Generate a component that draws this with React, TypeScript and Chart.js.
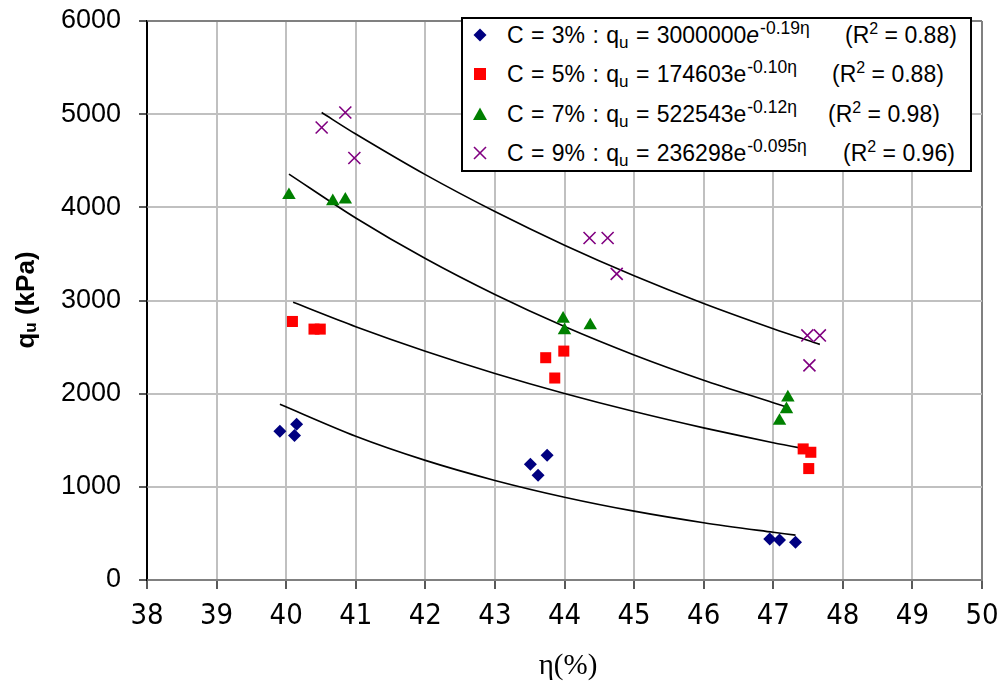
import React, { useEffect, useRef } from "react";
import { Chart, registerables } from "chart.js";

Chart.register(...registerables);

// ---- measured data (η %, qu kPa) ----
const etaC3 = [39.91, 40.15, 40.12, 43.51, 43.75, 43.62, 46.95, 47.09, 47.32];
const quC3 = [1596, 1671, 1550, 1243, 1339, 1125, 439, 429, 404];
const etaC5 = [40.09, 40.4, 40.49, 43.73, 43.99, 43.86, 47.43, 47.54, 47.51];
const quC5 = [2775, 2693, 2693, 2386, 2457, 2168, 1407, 1371, 1196];
const etaC7 = [40.04, 40.67, 40.85, 43.98, 44.0, 44.37, 47.21, 47.19, 47.09];
const quC7 = [4130, 4064, 4082, 2804, 2679, 2732, 1957, 1832, 1707];
const etaC9 = [40.51, 40.85, 40.98, 44.36, 44.62, 44.75, 47.49, 47.67, 47.52];
const quC9 = [4857, 5018, 4529, 3671, 3671, 3286, 2625, 2625, 2304];

// ---- trend lines ----
const trendEtaC3 = [39.91, 41, 42, 43, 44, 45, 46, 47, 47.32];
const trendQuC3 = [1886, 1543, 1284, 1069, 889, 739, 615, 512, 482];
const trendEtaC5 = [40.1, 41, 42, 43, 44, 45, 46, 47, 47.56];
const trendQuC5 = [2980, 2718, 2455, 2217, 2002, 1808, 1633, 1474, 1393];
const trendEtaC7 = [40.04, 41, 42, 43, 44, 45, 46, 47, 47.23];
const trendQuC7 = [4357, 3886, 3450, 3064, 2720, 2415, 2144, 1903, 1846];
const trendEtaC9 = [40.51, 41, 42, 43, 44, 45, 46, 47, 47.67];
const trendQuC9 = [5018, 4787, 4351, 3955, 3594, 3266, 2968, 2697, 2529];

// ---- legend text ----
const legendCement = ["C = 3%", "C = 5%", "C = 7%", "C = 9%"];
const legendCoef = ["3000000", "174603", "522543", "236298"];
const legendExp = ["-0.19\u03b7", "-0.10\u03b7", "-0.12\u03b7", "-0.095\u03b7"];
const legendR2 = ["0.88", "0.88", "0.98", "0.96"];
const legendItalicE = [true, false, false, false];
const legendR2Left = [382, 369, 365, 380];
const seriesColors = ["#000080", "#ff0000", "#008000", "#800080"];

const xTitle = "\u03b7(%)";
const yTitleMain = "q";
const yTitleSub = "u";
const yTitleRest = " (kPa)";

const pts = (xs: number[], ys: number[]) => xs.map((x, i) => ({ x, y: ys[i] }));

const SANS = '"Liberation Sans", Arial, sans-serif';
const NARROW = '"Liberation Sans Narrow", "Arial Narrow", "DejaVu Sans Condensed", sans-serif';

const titlePlugin = {
  id: "axisTitles",
  afterDraw(chart: any) {
    const ctx = chart.ctx as CanvasRenderingContext2D;
    ctx.save();
    ctx.fillStyle = "#000";
    // x title
    ctx.font = '29px "Liberation Serif", "Times New Roman", serif';
    ctx.textAlign = "center";
    ctx.textBaseline = "middle";
    ctx.fillText(xTitle, 568, 666);
    // y title (rotated)
    ctx.translate(26, 300);
    ctx.rotate(-Math.PI / 2);
    ctx.textAlign = "left";
    ctx.textBaseline = "alphabetic";
    const big = "bold 26px " + SANS;
    const small = "bold 17px " + SANS;
    ctx.font = big;
    const wq = ctx.measureText(yTitleMain).width;
    const wr = ctx.measureText(yTitleRest).width;
    ctx.font = small;
    const wu = ctx.measureText(yTitleSub).width;
    let x0 = -(wq + wu + wr) / 2;
    const base = 8;
    ctx.font = big;
    ctx.fillText(yTitleMain, x0, base);
    x0 += wq;
    ctx.font = small;
    ctx.fillText(yTitleSub, x0, base + 2);
    x0 += wu;
    ctx.font = big;
    ctx.fillText(yTitleRest, x0, base);
    ctx.restore();
  },
};

function Marker({ i }: { i: number }) {
  const c = seriesColors[i];
  return (
    <svg width={18} height={18} viewBox="0 0 18 18" style={{ display: "block" }}>
      {i === 0 && <polygon points="9,2.5 15.5,9 9,15.5 2.5,9" fill={c} />}
      {i === 1 && <rect x={3} y={3} width={12} height={12} fill={c} />}
      {i === 2 && <polygon points="9,2.5 16,15 2,15" fill={c} />}
      {i === 3 && (
        <g stroke={c} strokeWidth={1.6}>
          <line x1={3} y1={3} x2={15} y2={15} />
          <line x1={15} y1={3} x2={3} y2={15} />
        </g>
      )}
    </svg>
  );
}

const zeroPad = (s: any) => {
  s.paddingTop = 0;
  s.paddingBottom = 0;
  s.paddingLeft = 0;
  s.paddingRight = 0;
};

export default function App() {
  const ref = useRef<HTMLCanvasElement | null>(null);

  useEffect(() => {
    if (!ref.current) return;
    const pointStyles = ["rectRot", "rect", "triangle", "crossRot"];
    const radii = [6.5, 7.8, 7.8, 8.5];
    const scatterSets = [
      pts(etaC3, quC3),
      pts(etaC5, quC5),
      pts(etaC7, quC7),
      pts(etaC9, quC9),
    ].map((data, i) => ({
      label: legendCement[i],
      data,
      showLine: false,
      pointStyle: pointStyles[i],
      pointRadius: radii[i],
      pointBackgroundColor: seriesColors[i],
      pointBorderColor: seriesColors[i],
      pointBorderWidth: i === 3 ? 1.6 : 0,
      order: 1,
    }));
    const trendSets = [
      pts(trendEtaC3, trendQuC3),
      pts(trendEtaC5, trendQuC5),
      pts(trendEtaC7, trendQuC7),
      pts(trendEtaC9, trendQuC9),
    ].map((data, i) => ({
      label: "trend " + legendCement[i],
      data,
      showLine: true,
      borderColor: "#000",
      borderWidth: 1.6,
      pointRadius: 0,
      tension: 0.3,
      order: 2,
    }));

    const chart = new Chart(ref.current, {
      type: "scatter",
      data: { datasets: [...trendSets, ...scatterSets] as any },
      options: {
        animation: false,
        responsive: false,
        devicePixelRatio: 1,
        layout: { padding: { left: 0, right: 20, top: 21, bottom: 0 } },
        plugins: { legend: { display: false }, tooltip: { enabled: false } },
        scales: {
          x: {
            type: "linear",
            min: 38,
            max: 50,
            afterFit: (s: any) => {
              s.height = 108;
              zeroPad(s);
            },
            ticks: {
              stepSize: 1,
              color: "#000",
              padding: 10,
              font: { family: NARROW, size: 29 },
            },
            grid: {
              color: (c: any) =>
                c.tick && c.tick.value === 50 ? "#808080" : c.tick && c.tick.value === 38 ? "#000" : "#c0c0c0",
              lineWidth: 2,
              tickColor: "#000",
              tickLength: 9,
              tickWidth: 1.3,
            },
            border: { color: "#808080", width: 2 },
          },
          y: {
            type: "linear",
            min: 0,
            max: 6000,
            afterFit: (s: any) => {
              s.width = 147;
              zeroPad(s);
            },
            ticks: {
              stepSize: 1000,
              color: "#000",
              padding: 18,
              font: { family: SANS, size: 27 },
              callback: (v: any) => String(v),
            },
            grid: {
              color: (c: any) =>
                c.tick && (c.tick.value === 6000 || c.tick.value === 0) ? "#808080" : "#c0c0c0",
              lineWidth: 2,
              tickColor: "#000",
              tickLength: 8,
              tickWidth: 1.3,
            },
            border: { color: "#000", width: 1.3 },
          },
        },
      },
      plugins: [titlePlugin],
    } as any);
    return () => chart.destroy();
  }, []);

  const rowCenters = [16, 55, 95, 134];

  return (
    <div style={{ position: "absolute", left: 0, top: 0, width: 1002, height: 688, background: "#fff" }}>
      <canvas ref={ref} width={1002} height={688} style={{ display: "block", width: 1002, height: 688 }} />
      <div
        style={{
          position: "absolute",
          left: 461,
          top: 17,
          width: 511,
          height: 155,
          border: "2px solid #000",
          boxSizing: "border-box",
          background: "#fff",
          fontFamily: SANS,
          fontSize: 23,
          color: "#000",
        }}
      >
        {legendCement.map((lab, i) => (
          <div key={i}>
            <div style={{ position: "absolute", left: 8, top: rowCenters[i] - 9 }}>
              <Marker i={i} />
            </div>
            <div
              style={{
                position: "absolute",
                left: 44,
                top: rowCenters[i] - 15,
                height: 30,
                lineHeight: "30px",
                whiteSpace: "nowrap",
                wordSpacing: 1,
              }}
            >
              {lab} : q
              <span style={{ fontSize: 17, position: "relative", top: 5 }}>u</span> = {legendCoef[i]}
              <span style={{ fontStyle: legendItalicE[i] ? "italic" : "normal" }}>e</span>
              <span style={{ fontSize: 17.5, position: "relative", top: -9, marginLeft: 1 }}>{legendExp[i]}</span>
            </div>
            <div
              style={{
                position: "absolute",
                left: legendR2Left[i],
                top: rowCenters[i] - 15,
                height: 30,
                lineHeight: "30px",
                whiteSpace: "nowrap",
              }}
            >
              (R<span style={{ fontSize: 16, position: "relative", top: -9 }}>2</span> = {legendR2[i]})
            </div>
          </div>
        ))}
      </div>
    </div>
  );
}
